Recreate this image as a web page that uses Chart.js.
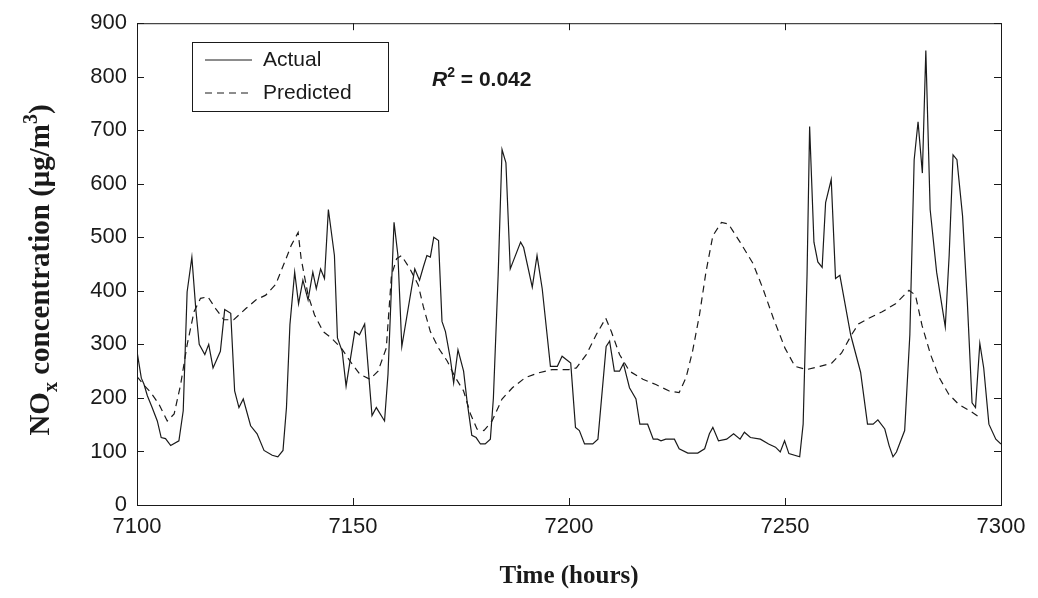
<!DOCTYPE html>
<html>
<head>
<meta charset="utf-8">
<script src="https://cdn.jsdelivr.net/npm/chart.js@4/dist/chart.umd.min.js"></script>
<style>
  html, body { margin: 0; padding: 0; background: #fff; }
  #wrap { width: 1038px; height: 598px; }
</style>
</head>
<body>
<div id="wrap"><canvas id="noxChart"></canvas></div>
<script>
// values (hour, ug/m3)
const actualHours = [
  7100, 7101, 7101.6, 7102.4, 7103.5, 7104.7, 7105.6, 7106.6, 7107.8, 7109.7,
  7110.7, 7111.6, 7112.7, 7113.6, 7114.4, 7115.7, 7116.6, 7117.6, 7119.3, 7120.3,
  7121.7, 7122.6, 7123.6, 7124.6, 7126.3, 7127.8, 7129.4, 7131.3, 7132.6, 7133.8,
  7134.6, 7135.4, 7136.5, 7137.4, 7138.4, 7139.6, 7140.7, 7141.5, 7142.5, 7143.4,
  7144.3, 7145.7, 7146.4, 7147.5, 7148.4, 7150.4, 7151.5, 7152.7, 7154.4, 7155.4,
  7157.3, 7158.1, 7159.5, 7160.4, 7161.3, 7164.3, 7165.4, 7166.3, 7167.1, 7167.9,
  7168.7, 7169.8, 7170.6, 7171.4, 7172.5, 7173.3, 7174.3, 7175.6, 7176.4, 7177.5,
  7178.5, 7179.5, 7180.6, 7181.8, 7182.5, 7183.6, 7184.5, 7185.4, 7186.4, 7188.8,
  7189.5, 7191.5, 7192.6, 7193.8, 7195.7, 7197.3, 7198.4, 7200.4, 7201.5, 7202.4,
  7203.6, 7205.5, 7206.7, 7208.6, 7209.4, 7210.5, 7211.7, 7212.6, 7214.0, 7215.5,
  7216.4, 7218.2, 7219.5, 7220.5, 7221.3, 7222.4, 7224.4, 7225.5, 7227.5, 7229.8,
  7231.4, 7232.5, 7233.3, 7234.6, 7236.5, 7238.1, 7239.6, 7240.6, 7242.0, 7244.3,
  7246.2, 7247.8, 7248.9, 7249.9, 7250.9, 7253.4, 7254.2, 7255.1, 7255.7, 7256.7,
  7257.6, 7258.6, 7259.4, 7260.7, 7261.7, 7262.7, 7265.2, 7267.5, 7269.1, 7270.4,
  7271.5, 7273.1, 7274.1, 7275.0, 7275.8, 7277.7, 7278.9, 7279.9, 7280.8, 7281.8,
  7282.6, 7283.6, 7285.1, 7287.1, 7288.0, 7288.9, 7289.8, 7291.1, 7292.2, 7293.3,
  7294.1, 7295.1, 7296.0, 7297.2, 7298.8, 7300
];
const actualValues = [
  287, 237, 226, 204, 182, 157, 126, 124, 111, 120,
  176, 398, 463, 367, 300, 281, 300, 256, 287, 365,
  358, 213, 182, 198, 148, 133, 102, 93, 90, 102,
  182, 337, 435, 376, 420, 383, 435, 404, 441, 423,
  552, 466, 312, 287, 222, 324, 318, 338, 167, 182,
  157, 244, 528, 466, 296, 441, 420, 445, 466, 463,
  500, 494, 343, 324, 275, 228, 290, 250, 194, 130,
  126, 114, 114, 123, 200, 429, 664, 639, 441, 491,
  481, 407, 466, 404, 259, 259, 278, 265, 145, 139,
  114, 114, 123, 296, 306, 250, 250, 264, 219, 198,
  151, 151, 123, 123, 120, 123, 123, 105, 97, 97,
  105, 133, 145, 120, 123, 133, 123, 136, 126, 123,
  114, 108, 99, 120, 96, 90, 151, 429, 707, 491,
  454, 444, 565, 608, 423, 429, 318, 248, 151, 151,
  159, 142, 111, 90, 99, 139, 318, 645, 716, 620,
  849, 552, 435, 333, 466, 654, 645, 540, 380, 191,
  182, 302, 256, 151, 123, 114
];

const predHours = [
  7100, 7101.5, 7103.2, 7105.1, 7107.0, 7108.6, 7110.1, 7111.6, 7113.2, 7114.7,
  7116.4, 7118.2, 7120.1, 7122.4, 7125.2, 7127.5, 7129.8, 7132.1, 7134.2, 7135.7,
  7137.3, 7138.0, 7139.6, 7141.1, 7143.1, 7145.0, 7147.3, 7149.3, 7151.6, 7153.9,
  7155.8, 7157.7, 7158.9, 7160.1, 7161.2, 7163.2, 7165.1, 7166.3, 7167.9, 7169.8,
  7171.8, 7173.7, 7175.6, 7177.2, 7178.7, 7180.3, 7182.2, 7184.5, 7186.9, 7189.9,
  7193.0, 7196.1, 7200.0, 7201.7, 7204.0, 7206.3, 7208.5, 7209.8, 7211.7, 7214.0,
  7217.1, 7220.1, 7223.2, 7225.5, 7227.1, 7228.6, 7230.2, 7231.7, 7233.3, 7235.3,
  7236.9, 7239.6, 7242.6, 7244.9, 7247.3, 7250.0, 7252.3, 7255.0, 7258.1, 7260.8,
  7263.1, 7265.4, 7267.0, 7269.4, 7272.5, 7275.6, 7278.7, 7280.2, 7281.7, 7283.7,
  7285.7, 7287.9, 7290.2, 7292.8, 7295.0
];
const predValues = [
  240, 225, 210, 188, 157, 170, 225, 299, 361, 386,
  389, 367, 346, 346, 367, 383, 392, 412, 454, 485,
  509, 460, 392, 355, 324, 312, 293, 269, 244, 235,
  250, 293, 429, 460, 466, 441, 411, 370, 324, 293,
  269, 238, 213, 170, 142, 139, 157, 198, 219, 238,
  247, 253, 253, 256, 281, 318, 349, 324, 281, 250,
  235, 225, 213, 210, 238, 287, 355, 435, 503, 528,
  525, 491, 451, 404, 349, 293, 259, 253, 259, 265,
  284, 318, 338, 349, 361, 376, 401, 392, 336, 281,
  238, 207, 188, 176, 164
];

const xTicks = [7100, 7150, 7200, 7250, 7300];
const yTicks = [0, 100, 200, 300, 400, 500, 600, 700, 800, 900];
const seriesNames = ["Actual", "Predicted"];
const r2Text = "0.042";

const ink = "#1a1a1a";
const tickFont = { family: "Liberation Sans, Arial, sans-serif", size: 22 };

function toPoints(xs, ys) {
  return xs.map((x, i) => ({ x: x, y: ys[i] }));
}

// frame, inward ticks, legend box, R^2 note and y title
const decorPlugin = {
  id: "decor",
  afterDraw(chart) {
    const ctx = chart.ctx;
    const a = chart.chartArea;
    const xs = chart.scales.x;
    const ys = chart.scales.y;
    ctx.save();
    ctx.strokeStyle = ink;
    ctx.lineWidth = 1;
    ctx.strokeRect(a.left + 0.5, a.top + 0.5, a.right - a.left, a.bottom - a.top);

    ctx.beginPath();
    yTicks.forEach((v) => {
      const py = Math.round(ys.getPixelForValue(v)) + 0.5;
      ctx.moveTo(a.left, py); ctx.lineTo(a.left + 7, py);
      ctx.moveTo(a.right, py); ctx.lineTo(a.right - 7, py);
    });
    xTicks.forEach((v) => {
      const px = Math.round(xs.getPixelForValue(v)) + 0.5;
      ctx.moveTo(px, a.bottom); ctx.lineTo(px, a.bottom - 7);
      ctx.moveTo(px, a.top); ctx.lineTo(px, a.top + 7);
    });
    ctx.stroke();

    // legend
    const lx = 192, ly = 42, lw = 196, lh = 69;
    ctx.fillStyle = "#fff";
    ctx.fillRect(lx, ly, lw, lh);
    ctx.strokeRect(lx + 0.5, ly + 0.5, lw, lh);
    ctx.font = "21px Liberation Sans, Arial, sans-serif";
    ctx.textBaseline = "middle";
    chart.data.datasets.forEach((ds, i) => {
      const yy = ly + 18 + i * 33;
      ctx.save();
      ctx.strokeStyle = ds.borderColor;
      ctx.lineWidth = 1;
      ctx.setLineDash(ds.borderDash || []);
      ctx.beginPath();
      ctx.moveTo(lx + 13, yy); ctx.lineTo(lx + 60, yy);
      ctx.stroke();
      ctx.restore();
      ctx.fillStyle = ink;
      ctx.fillText(ds.label, lx + 71, yy);
    });

    // R^2 note
    let tx = 432;
    const ty = 80;
    ctx.font = "italic bold 21px Liberation Sans, Arial, sans-serif";
    ctx.fillText("R", tx, ty);
    tx += ctx.measureText("R").width;
    ctx.font = "bold 14px Liberation Sans, Arial, sans-serif";
    ctx.fillText("2", tx, ty - 7);
    tx += ctx.measureText("2").width;
    ctx.font = "bold 21px Liberation Sans, Arial, sans-serif";
    ctx.fillText(" = " + r2Text, tx, ty);

    // y title with subscript / superscript
    ctx.translate(42, 270);
    ctx.rotate(-Math.PI / 2);
    const big = "bold 29px Liberation Serif, Times New Roman, serif";
    const small = "bold 20px Liberation Serif, Times New Roman, serif";
    const parts = [
      { t: "NO", f: big, dy: 0 },
      { t: "x", f: small, dy: 10 },
      { t: " concentration (\u03bcg/m", f: big, dy: 0 },
      { t: "3", f: small, dy: -10 },
      { t: ")", f: big, dy: 0 }
    ];
    let total = 0;
    parts.forEach((p) => { ctx.font = p.f; total += ctx.measureText(p.t).width; });
    let px = -total / 2;
    ctx.textBaseline = "middle";
    parts.forEach((p) => {
      ctx.font = p.f;
      ctx.fillText(p.t, px, p.dy);
      px += ctx.measureText(p.t).width;
    });
    ctx.restore();
  }
};

new Chart(document.getElementById("noxChart"), {
  type: "line",
  data: {
    datasets: [
      {
        label: seriesNames[0],
        data: toPoints(actualHours, actualValues),
        borderColor: ink,
        borderWidth: 1.2,
        pointRadius: 0,
        tension: 0,
        fill: false
      },
      {
        label: seriesNames[1],
        data: toPoints(predHours, predValues),
        borderColor: ink,
        borderWidth: 1.2,
        borderDash: [7, 5],
        pointRadius: 0,
        tension: 0,
        fill: false
      }
    ]
  },
  options: {
    responsive: true,
    maintainAspectRatio: false,
    animation: false,
    layout: { padding: { left: 0, top: 19, right: 37, bottom: 0 } },
    plugins: {
      legend: { display: false },
      tooltip: { enabled: false }
    },
    scales: {
      x: {
        type: "linear",
        min: 7100,
        max: 7300,
        afterBuildTicks: (scale) => { scale.ticks = xTicks.map((v) => ({ value: v })); },
        afterFit: (scale) => { scale.height = 93; },
        grid: { display: false, drawTicks: false },
        border: { display: false },
        ticks: { color: ink, font: tickFont, padding: 9, maxRotation: 0, callback: (v) => String(v) },
        title: {
          display: true,
          text: "Time (hours)",
          color: ink,
          font: { family: "Liberation Serif, Times New Roman, serif", size: 25, weight: "bold" },
          padding: { top: 0, bottom: 6 }
        }
      },
      y: {
        min: 0,
        max: 900,
        afterBuildTicks: (scale) => { scale.ticks = yTicks.map((v) => ({ value: v })); },
        afterFit: (scale) => { scale.width = 137; },
        grid: { display: false, drawTicks: false },
        border: { display: false },
        ticks: { color: ink, font: tickFont, padding: 10, callback: (v) => String(v) }
      }
    }
  },
  plugins: [decorPlugin]
});
</script>
</body>
</html>
